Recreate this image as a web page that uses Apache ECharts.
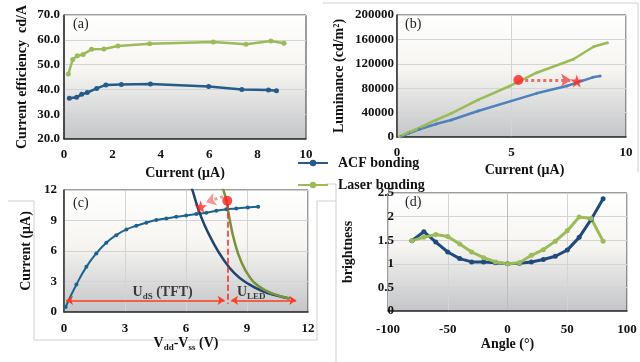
<!DOCTYPE html>
<html>
<head>
<meta charset="utf-8">
<script src="https://cdn.jsdelivr.net/npm/echarts@6/dist/echarts.min.js"></script>
<style>
  html, body { margin: 0; padding: 0; background: #fff; }
  #chart { width: 640px; height: 362px; }
</style>
</head>
<body>
<div id="chart"></div>
<script>
// (a) current efficiency vs current
const effCurrentACF = [0.22, 0.52, 0.73, 0.96, 1.35, 1.73, 2.37, 3.57, 5.98, 7.35, 8.45, 8.78];
const effACF = [36.4, 36.8, 38.0, 38.7, 40.4, 41.8, 42.0, 42.2, 41.2, 40.0, 39.8, 39.5];
const effCurrentLaser = [0.18, 0.36, 0.55, 0.79, 1.14, 1.65, 2.23, 3.54, 6.17, 7.52, 8.55, 9.09];
const effLaser = [46.2, 52.1, 53.6, 54.1, 56.2, 56.3, 57.5, 58.4, 59.1, 58.2, 59.5, 58.6];

// (b) luminance vs current
const lumCurrentACF = [0.17, 0.51, 0.98, 1.71, 2.37, 3.54, 6.1, 7.41, 8.55, 8.87];
const lumACF = [500, 6000, 12600, 21300, 27900, 42600, 71600, 83600, 97800, 100000];
const lumCurrentLaser = [0.1, 0.46, 0.83, 1.24, 1.71, 2.37, 3.54, 4.93, 6.1, 7.7, 8.58, 9.19];
const lumLaser = [500, 7000, 12600, 19700, 27900, 38800, 60700, 83600, 105400, 127400, 148000, 154600];
const lumCircle = [5.3, 93400];
const lumStar = [7.85, 91800];

// (c) TFT output curve and LED load curves
const tftVoltage = [0.08, 0.61, 1.1, 1.59, 2.08, 2.57, 3.07, 3.56, 4.05, 4.54, 5.03, 5.52, 6.01, 6.51, 7.0, 7.49, 7.98, 8.47, 9.04, 9.55];
const tftCurrent = [0.49, 2.7, 4.44, 5.76, 6.81, 7.56, 8.12, 8.48, 8.78, 9.04, 9.2, 9.37, 9.5, 9.63, 9.76, 9.96, 10.1, 10.19, 10.29, 10.36];
const ledVoltageACF = [6.25, 6.34, 6.59, 6.91, 7.32, 7.81, 8.39, 9.04, 9.78, 10.6, 11.09];
const ledCurrentACF = [12.4, 11.83, 10.2, 8.55, 6.9, 5.27, 3.79, 2.8, 2.04, 1.55, 1.32];
const ledVoltageLaser = [7.78, 7.81, 7.98, 8.14, 8.39, 8.72, 9.13, 9.62, 10.27, 11.09];
const ledCurrentLaser = [12.4, 12.2, 11.0, 9.2, 6.9, 4.93, 3.45, 2.47, 1.81, 1.32];
const ledCircle = [8.03, 10.95];
const ledStar = [6.72, 10.36];

// (d) brightness vs angle
const angles = [-80, -70, -60, -50, -40, -30, -20, -10, 0, 10, 20, 30, 40, 50, 60, 70, 80];
const brightACF = [1.49, 1.68, 1.46, 1.25, 1.11, 1.04, 1.04, 1.02, 1.0, 1.01, 1.04, 1.09, 1.16, 1.29, 1.56, 1.94, 2.38];
const brightLaser = [1.49, 1.56, 1.62, 1.58, 1.42, 1.25, 1.13, 1.04, 1.0, 1.02, 1.18, 1.3, 1.48, 1.7, 1.99, 1.96, 1.48];

const zip = (xs, ys) => xs.map((x, i) => [x, ys[i]]);

const SERIF = '"Liberation Serif", "DejaVu Serif", serif';
const darkBlue = '#255a8c';
const navy = '#1f456f';
const lightBlue = '#4f81bd';
const green = '#9bbb59';
const olive = '#77933c';
const red = '#ff2020';
const starPath = 'path://M50,0 L61,35 L98,35 L68,57 L79,91 L50,70 L21,91 L32,57 L2,35 L39,35 Z';

const plotBg = {
  type: 'linear', x: 0, y: 0, x2: 0, y2: 1,
  colorStops: [
    { offset: 0, color: '#ffffff' },
    { offset: 0.45, color: '#f6f5f1' },
    { offset: 1, color: '#c3c5c8' }
  ]
};
const gridStyle = { show: true, borderColor: '#3a3a3a', borderWidth: 1, backgroundColor: plotBg };

const labelStyle = { fontFamily: SERIF, fontWeight: 'bold', fontSize: 13, color: '#111' };
const nameStyle = { fontFamily: SERIF, fontWeight: 'bold', fontSize: 14, color: '#111' };
const split = { show: true, lineStyle: { color: '#d4d4d4', width: 1 } };

function axis(extra) {
  return Object.assign({
    type: 'value',
    axisTick: { show: false },
    axisLine: { show: true, lineStyle: { color: '#333', width: 1.5 } },
    axisLabel: Object.assign({}, labelStyle),
    nameLocation: 'middle',
    nameTextStyle: Object.assign({}, nameStyle),
    splitLine: split
  }, extra);
}

const chart = echarts.init(document.getElementById('chart'), null, { renderer: 'canvas' });

const subRich = {
  n: { fontFamily: SERIF, fontWeight: 'bold', fontSize: 14, color: '#111', lineHeight: 18 },
  s: { fontFamily: SERIF, fontWeight: 'bold', fontSize: 9, color: '#111', verticalAlign: 'bottom', lineHeight: 18, padding: [6, 0, 0, 0] }
};

const option = {
  animation: false,
  backgroundColor: '#fff',
  legend: {
    data: ['ACF bonding', 'Laser bonding'],
    orient: 'vertical',
    left: 292,
    top: 151,
    itemWidth: 30,
    itemHeight: 8,
    itemGap: 8,
    textStyle: { fontFamily: SERIF, fontWeight: 'bold', fontSize: 14, color: '#111', padding: [0, 0, 0, 5] }
  },
  grid: [
    Object.assign({ left: 64, top: 15, width: 242, height: 124 }, gridStyle),
    Object.assign({ left: 397, top: 15, width: 229, height: 122 }, gridStyle),
    Object.assign({ left: 64, top: 190, width: 244, height: 122 }, gridStyle),
    Object.assign({ left: 388, top: 193, width: 239, height: 118 }, gridStyle)
  ],
  xAxis: [
    axis({ gridIndex: 0, min: 0, max: 10, interval: 2, splitLine: { show: false },
      axisLabel: Object.assign({}, labelStyle, { margin: 9 }),
      name: 'Current (μA)', nameGap: 27 }),
    axis({ gridIndex: 1, min: 0, max: 10, interval: 5,
      axisLabel: Object.assign({}, labelStyle, { margin: 9 }),
      name: 'Current (μA)', nameGap: 26,
      nameTextStyle: Object.assign({}, nameStyle, { padding: [0, 0, 0, 26] }) }),
    axis({ gridIndex: 2, min: 0, max: 12, interval: 3,
      axisLabel: Object.assign({}, labelStyle, { margin: 10 }),
      name: '{n|V}{s|dd}{n|-V}{s|ss}{n| (V)}', nameGap: 20,
      nameTextStyle: Object.assign({}, nameStyle, { rich: subRich }) }),
    axis({ gridIndex: 3, min: -100, max: 100, interval: 50,
      axisLine: { show: true, onZero: false, lineStyle: { color: '#333', width: 1.5 } },
      axisLabel: Object.assign({}, labelStyle, { margin: 12 }),
      name: 'Angle (°)', nameGap: 25 })
  ],
  yAxis: [
    axis({ gridIndex: 0, min: 20, max: 70, interval: 10,
      axisLabel: Object.assign({}, labelStyle, { margin: 4, formatter: v => v.toFixed(1) }),
      name: 'Current efficiency  cd/A', nameGap: 35 }),
    axis({ gridIndex: 1, min: 0, max: 200000, interval: 40000,
      axisLabel: Object.assign({}, labelStyle, { margin: 3, formatter: v => String(v) }),
      name: 'Luminance (cd/m²)', nameGap: 51 }),
    axis({ gridIndex: 2, min: 0, max: 12, interval: 3,
      axisLabel: Object.assign({}, labelStyle, { margin: 7 }),
      name: 'Current (μA)', nameGap: 31 }),
    axis({ gridIndex: 3, min: 0, max: 2.5, interval: 0.5,
      axisLine: { show: true, onZero: true, lineStyle: { color: '#bdbdbd', width: 1 } },
      axisLabel: Object.assign({}, labelStyle, { margin: -6 }),
      name: 'brightness', nameGap: 33 })
  ],
  series: [
    // (a)
    { name: 'ACF bonding', type: 'line', xAxisIndex: 0, yAxisIndex: 0, data: zip(effCurrentACF, effACF),
      symbol: 'circle', symbolSize: 5, color: darkBlue, lineStyle: { width: 2.5, color: darkBlue } },
    { name: 'Laser bonding', type: 'line', xAxisIndex: 0, yAxisIndex: 0, data: zip(effCurrentLaser, effLaser),
      symbol: 'circle', symbolSize: 5, color: green, lineStyle: { width: 2.5, color: green } },
    // (b)
    { name: 'ACF bonding', type: 'line', xAxisIndex: 1, yAxisIndex: 1, data: zip(lumCurrentACF, lumACF),
      symbol: 'circle', symbolSize: 3, color: lightBlue, lineStyle: { width: 2.5, color: lightBlue } },
    { name: 'Laser bonding', type: 'line', xAxisIndex: 1, yAxisIndex: 1, data: zip(lumCurrentLaser, lumLaser),
      symbol: 'circle', symbolSize: 3, color: green, lineStyle: { width: 2.5, color: green } },
    { name: 'b-marks', type: 'scatter', xAxisIndex: 1, yAxisIndex: 1, z: 5,
      data: [
        { value: lumCircle, symbol: 'circle', symbolSize: 10 },
        { value: lumStar, symbol: starPath, symbolSize: 13 }
      ],
      itemStyle: { color: red },
      markLine: {
        silent: true, symbol: ['none', 'arrow'], symbolSize: 10, label: { show: false },
        lineStyle: { type: 'dotted', color: '#ec6a6a', width: 3 },
        data: [[{ coord: [lumCircle[0] + 0.3, lumCircle[1] - 150] }, { coord: [lumStar[0] - 0.25, lumCircle[1] - 150] }]]
      } },
    // (c)
    { name: 'TFT', type: 'line', xAxisIndex: 2, yAxisIndex: 2, data: zip(tftVoltage, tftCurrent), smooth: true,
      symbol: 'circle', symbolSize: 4, color: '#1d6391', lineStyle: { width: 2, color: '#1d6391' } },
    { name: 'LED ACF', type: 'line', xAxisIndex: 2, yAxisIndex: 2, data: zip(ledVoltageACF, ledCurrentACF), smooth: true,
      showSymbol: false, color: navy, lineStyle: { width: 2.5, color: navy } },
    { name: 'LED Laser', type: 'line', xAxisIndex: 2, yAxisIndex: 2, data: zip(ledVoltageLaser, ledCurrentLaser), smooth: true,
      showSymbol: false, color: olive, lineStyle: { width: 2.5, color: olive } },
    { name: 'c-marks', type: 'scatter', xAxisIndex: 2, yAxisIndex: 2, z: 5,
      data: [
        { value: ledCircle, symbol: 'circle', symbolSize: 10 },
        { value: ledStar, symbol: starPath, symbolSize: 13 }
      ],
      itemStyle: { color: red },
      markLine: {
        silent: true, label: { show: false }, symbolSize: 7,
        data: [
          [{ coord: [ledCircle[0], ledCircle[1] - 0.3], symbol: 'none', lineStyle: { type: 'dashed', color: red, width: 1.5 } },
           { coord: [ledCircle[0], 0.8], symbol: 'none' }],
          [{ coord: [0.1, 1.15], symbol: 'arrow', lineStyle: { type: 'solid', color: '#ff3b1f', width: 1.5 } },
           { coord: [7.9, 1.15], symbol: 'arrow' }],
          [{ coord: [8.22, 1.15], symbol: 'arrow', lineStyle: { type: 'solid', color: '#ff3b1f', width: 1.5 } },
           { coord: [11.42, 1.15], symbol: 'arrow' }],
          [{ coord: [7.82, 11.35], symbol: 'none', symbolSize: 10, lineStyle: { type: 'dotted', color: '#f19a9a', width: 3 } },
           { coord: [6.98, 10.8], symbol: 'arrow', symbolSize: 10 }]
        ]
      } },
    { name: 'c-text', type: 'scatter', xAxisIndex: 2, yAxisIndex: 2, symbolSize: 0, z: 6,
      data: [
        { value: [4.85, 1.97], label: { formatter: '{n|U}{s|dS}{n| (TFT)}' } },
        { value: [9.21, 1.97], label: { formatter: '{n|U}{s|LED}' } }
      ],
      label: { show: true, position: 'inside', rich: subRich } },
    // (d)
    { name: 'ACF bonding', type: 'line', xAxisIndex: 3, yAxisIndex: 3, data: zip(angles, brightACF),
      symbol: 'circle', symbolSize: 5, color: '#1f4a7e', lineStyle: { width: 3, color: '#1f4a7e' } },
    { name: 'Laser bonding', type: 'line', xAxisIndex: 3, yAxisIndex: 3, data: zip(angles, brightLaser),
      symbol: 'circle', symbolSize: 5, color: green, lineStyle: { width: 3, color: green } }
  ],
  graphic: [
    { type: 'text', left: 73, top: 17, style: { text: '(a)', font: '14px ' + SERIF, fill: '#222' } },
    { type: 'text', left: 405, top: 17, style: { text: '(b)', font: '14px ' + SERIF, fill: '#222' } },
    { type: 'text', left: 73, top: 196, style: { text: '(c)', font: '14px ' + SERIF, fill: '#222' } },
    { type: 'text', left: 405, top: 195, style: { text: '(d)', font: '14px ' + SERIF, fill: '#222' } },
    // chart-area frames
    { type: 'polyline', z: -1, shape: { points: [[323, 3], [638, 3], [638, 172]] },
      style: { stroke: '#d0d0d0', fill: null, lineWidth: 1 } },
    { type: 'polyline', z: -1, shape: { points: [[8, 201], [34, 201], [34, 340], [317, 340], [317, 201], [336, 201]] },
      style: { stroke: '#d0d0d0', fill: null, lineWidth: 1 } },
    { type: 'polyline', z: -1, shape: { points: [[326, 184], [336, 184], [336, 362]] },
      style: { stroke: '#d0d0d0', fill: null, lineWidth: 1 } }
  ]
};

chart.setOption(option);
</script>
</body>
</html>
